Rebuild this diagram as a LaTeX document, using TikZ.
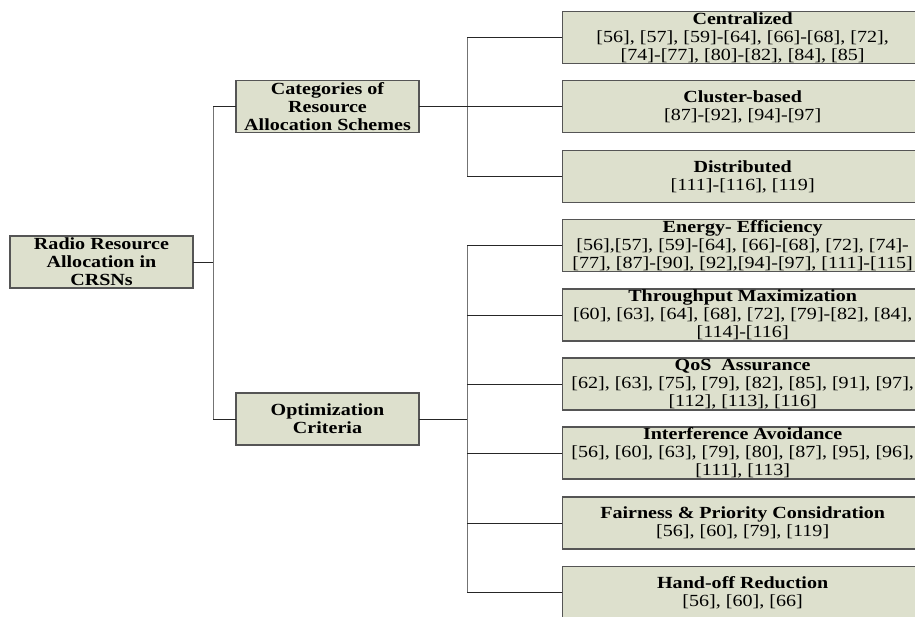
\documentclass[tikz,border=0pt]{standalone}
\usepackage{fontspec}
\setmainfont{Liberation Serif}[FakeStretch=1.18]
\usepackage{tikz}
\definecolor{boxfill}{RGB}{221,224,205}
\definecolor{boxline}{RGB}{85,85,85}

\tikzset{
  box/.style={draw=boxline,fill=boxfill,line width=1.3pt,inner sep=0pt,
    minimum height=52pt,align=center,font=\fontsize{17pt}{18pt}\selectfont},
  midbox/.style={box,minimum width=183pt},
  leafbox/.style={box,minimum width=360pt,anchor=west},
  conn/.style={draw=black!85,line width=0.9pt},
  trunk/.style={draw=black!55,line width=1.6pt}
}

\begin{document}
\begin{tikzpicture}[x=1pt,y=-1pt,line cap=rect,line join=miter]
\useasboundingbox (0,0) rectangle (915,616);
% root and second level
\node[midbox] (root) at (101.5,262) {\bfseries Radio Resource\\\bfseries Allocation in\\\bfseries CRSNs};
\node[midbox] (cat) at (327.5,106.5) {\bfseries Categories of\\\bfseries Resource\\\bfseries Allocation Schemes};
\node[midbox] (opt) at (327.5,419) {\bfseries Optimization\\\bfseries Criteria};
% schemes
\node[leafbox] (cent) at (562,37.5) {\bfseries Centralized\\{}[56], [57], [59]-[64], [66]-[68], [72],\\{}[74]-[77], [80]-[82], [84], [85]};
\node[leafbox] (clus) at (562,106.5) {\bfseries Cluster-based\\{}[87]-[92], [94]-[97]};
\node[leafbox] (dist) at (562,176.5) {\bfseries Distributed\\{}[111]-[116], [119]};
% criteria
\node[leafbox] (ener) at (562,245.5) {\bfseries Energy- Efficiency\\{}[56],[57], [59]-[64], [66]-[68], [72], [74]-\\{}[77], [87]-[90], [92],[94]-[97], [111]-[115]};
\node[leafbox] (thru) at (562,315) {\bfseries Throughput Maximization\\{}[60], [63], [64], [68], [72], [79]-[82], [84],\\{}[114]-[116]};
\node[leafbox] (qos) at (562,384) {\bfseries QoS\ \ Assurance\\{}[62], [63], [75], [79], [82], [85], [91], [97],\\{}[112], [113], [116]};
\node[leafbox] (intf) at (562,453) {\bfseries Interference Avoidance\\{}[56], [60], [63], [79], [80], [87], [95], [96],\\{}[111], [113]};
\node[leafbox] (fair) at (562,523) {\bfseries Fairness \& Priority Considration\\{}[56], [60], [79], [119]};
\node[leafbox] (hand) at (562,592.5) {\bfseries Hand-off Reduction\\{}[56], [60], [66]};
% connectors
\draw[conn] (root.east) -- ++(20,0) coordinate (rj);
\draw[trunk] (rj |- cat.west) -- (rj |- opt.west);
\draw[conn] (rj |- cat.west) -- (cat.west);
\draw[conn] (rj |- opt.west) -- (opt.west);
\draw[conn] (cat.east) -- ++(48,0) coordinate (cj);
\draw[trunk] (cj |- cent.west) -- (cj |- dist.west);
\foreach \n in {cent,clus,dist}
  \draw[conn] (cj |- \n.west) -- (\n.west);
\draw[conn] (opt.east) -- ++(48,0) coordinate (oj);
\draw[trunk] (oj |- ener.west) -- (oj |- hand.west);
\foreach \n in {ener,thru,qos,intf,fair,hand}
  \draw[conn] (oj |- \n.west) -- (\n.west);
\end{tikzpicture}
\end{document}
